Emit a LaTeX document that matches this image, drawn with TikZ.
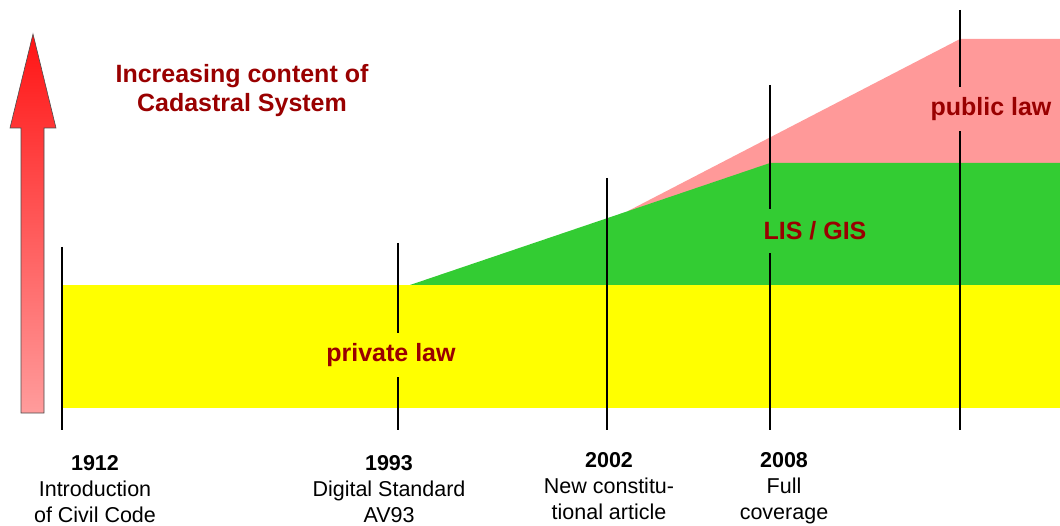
\documentclass[tikz,border=0pt]{standalone}
\usepackage{fontspec}
\setmainfont{Liberation Sans}
\usetikzlibrary{positioning}

\definecolor{lawyellow}{HTML}{FFFF00}
\definecolor{lawgreen}{HTML}{33CC33}
\definecolor{lawpink}{HTML}{FF9999}
\definecolor{darkred}{HTML}{990000}
\definecolor{arrowred}{HTML}{FF1414}
\definecolor{arrowpink}{HTML}{FF9C9C}

\begin{document}
\begin{tikzpicture}[x=1pt, y=-1pt, thick]
    \tikzstyle{layer} = [font=\fontsize{25}{29}\selectfont\bfseries, text=darkred, inner sep=0pt, minimum height=44pt]
    \tikzstyle{event} = [font=\fontsize{21.5}{26}\selectfont, align=center, anchor=north, inner sep=0pt]
    \tikzstyle{timeline} = [draw=black, line width=1.3pt]

    \useasboundingbox (0,0) rectangle (1060,526);

    % content layers
    \fill [lawpink] (628,211) -- (960,39) -- (1060,39) -- (1060,285) -- (628,285) -- cycle;
    \fill [lawgreen] (410,285) -- (770,163) -- (1060,163) -- (1060,285) -- cycle;
    \fill [lawyellow] (63,285) rectangle (1060,408);

    % time marks
    \draw [timeline] (62,247) -- (62,430);
    \draw [timeline] (398,243) -- (398,430);
    \draw [timeline] (607,178) -- (607,430);
    \draw [timeline] (770,85) -- (770,430);
    \draw [timeline] (960,10) -- (960,430);

    \node [layer, fill=lawyellow] (private) at (391,355) {private law};
    \node [layer, fill=lawgreen] (lisgis) at (815,231) {LIS / GIS};
    \node [layer, fill=lawpink] (public) at (991,109) {public law};

    % growth arrow
    \shade [top color=arrowred, bottom color=arrowpink, draw=black!70, line width=0.6pt]
        (21,413) -- (21,128) -- (10,128) -- (33,34) -- (56,128) -- (44,128) -- (44,413) -- cycle;
    \node [font=\fontsize{25}{29}\selectfont\bfseries, text=darkred, align=center] (title) at (242,91)
        {Increasing content of\\Cadastral System};

    % events
    \node [event] (e1912) at (95,455) {\textbf{1912}\\Introduction\\of Civil Code};
    \node [event] (e1993) at (389,455) {\textbf{1993}\\Digital Standard\\AV93};
    \node [event] (e2002) at (609,452) {\textbf{2002}\\New constitu-\\tional article};
    \node [event] (e2008) at (784,452) {\textbf{2008}\\Full\\coverage};
\end{tikzpicture}
\end{document}
